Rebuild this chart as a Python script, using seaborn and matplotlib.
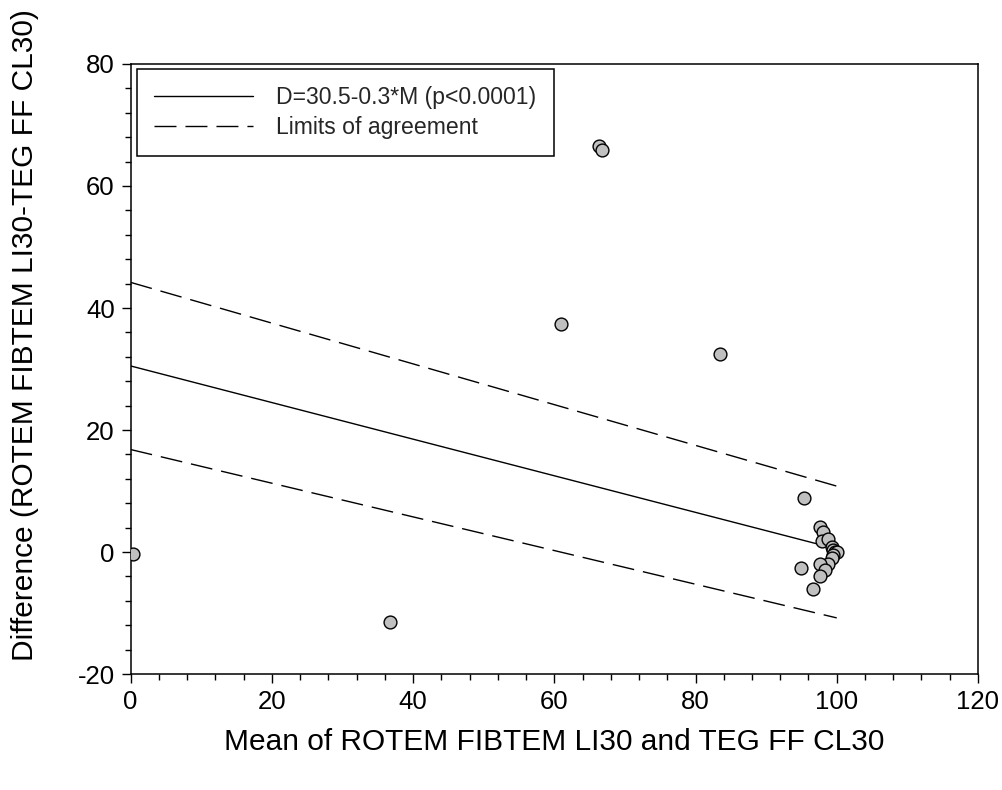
import numpy as np
import pandas as pd
import seaborn as sns
import matplotlib
matplotlib.use("Agg")
import matplotlib.pyplot as plt
from matplotlib.ticker import AutoMinorLocator

# Bland-Altman data: mean of the two methods (M) and their difference (D)
mean_vals = [0.3, 36.7, 61.0, 66.4, 66.8, 83.5,
             95.3, 97.6, 98.1, 97.9, 98.8, 99.3, 99.5, 99.8, 100.0, 99.5,
             99.3, 98.8, 97.6, 98.3, 97.6, 95.0, 96.7]
diff_vals = [-0.3, -11.5, 37.4, 66.6, 65.9, 32.5,
             8.8, 4.1, 3.3, 1.8, 2.1, 0.9, 0.3, 0.05, 0.0, -0.5,
             -1.0, -1.9, -1.9, -3.0, -4.0, -2.6, -6.0]

# Regression of difference on mean: D = 30.5 - 0.3*M
intercept = 30.5
slope = -0.3
line_x = [0.0, 100.0]
loa_upper = [44.2, 10.8]
loa_lower = [16.8, -10.8]

x_ticks = [0, 20, 40, 60, 80, 100, 120]
y_ticks = [-20, 0, 20, 40, 60, 80]

sns.set_theme(style="ticks")
plt.rcParams["font.family"] = ["Liberation Sans", "DejaVu Sans"]
plt.rcParams["axes.unicode_minus"] = False

fig = plt.figure(figsize=(10.02, 7.9), dpi=100)
ax = fig.add_axes([0.1304, 0.1468, 0.8456, 0.7722])

reg_y = [intercept + slope * x for x in line_x]
lw = 1.0
dash = (0, (22 / 1.39 / lw, 9 / 1.39 / lw))

sns.lineplot(x=line_x, y=reg_y, ax=ax, color="black", linewidth=lw,
             label="D=30.5-0.3*M (p<0.0001)")
sns.lineplot(x=line_x, y=loa_upper, ax=ax, color="black", linewidth=lw,
             linestyle=dash, label="Limits of agreement")
sns.lineplot(x=line_x, y=loa_lower, ax=ax, color="black", linewidth=lw,
             linestyle=dash, legend=False)

pts = pd.DataFrame({"M": mean_vals, "D": diff_vals})
sns.scatterplot(data=pts, x="M", y="D", ax=ax, s=85, color="#c0c0c0",
                edgecolor="black", linewidth=1.0, zorder=3, legend=False)

ax.set_xlim(0, 120)
ax.set_ylim(-20, 80)
ax.set_xticks(x_ticks)
ax.set_yticks(y_ticks)
ax.xaxis.set_minor_locator(AutoMinorLocator(5))
ax.yaxis.set_minor_locator(AutoMinorLocator(5))
ax.tick_params(which="major", direction="out", length=6.5, width=1.0,
               labelsize=18.5, color="black", labelcolor="black", pad=5)
ax.tick_params(which="minor", direction="out", length=4.3, width=1.0,
               color="black")
for sp in ax.spines.values():
    sp.set_visible(True)
    sp.set_linewidth(1.1)
    sp.set_color("black")

ax.set_xlabel("Mean of ROTEM FIBTEM LI30 and TEG FF CL30", fontsize=21.5,
              labelpad=10, color="black")
ax.set_ylabel("Difference (ROTEM FIBTEM LI30-TEG FF CL30)", fontsize=21.5,
              color="black")
ax.yaxis.set_label_coords(-0.108, 0.555)

leg = ax.legend(loc="upper left", bbox_to_anchor=(0.0074, 0.992),
                borderaxespad=0, fontsize=16.6, handlelength=4.3,
                frameon=True, fancybox=False, edgecolor="black",
                borderpad=0.75, labelspacing=0.3, handletextpad=1.0)
leg.get_frame().set_linewidth(1.1)
leg.get_frame().set_alpha(None)

fig.savefig("out.png", dpi=100)
